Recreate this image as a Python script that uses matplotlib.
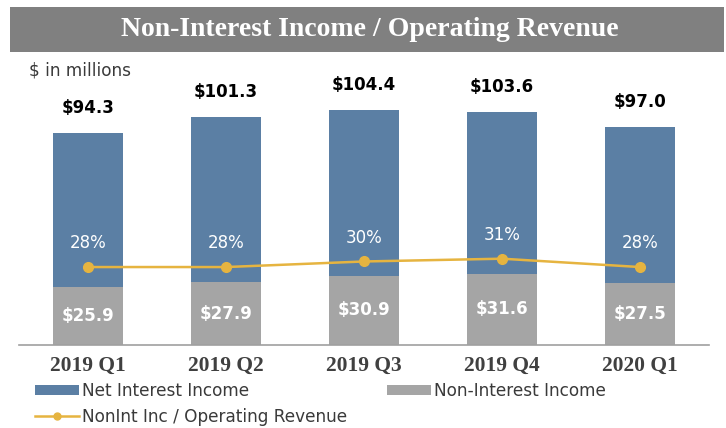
import matplotlib.pyplot as plt
from matplotlib.patches import Rectangle, Patch
from matplotlib.lines import Line2D
import numpy as np

# quarterly figures, $ in millions
quarters = ['2019 Q1', '2019 Q2', '2019 Q3', '2019 Q4', '2020 Q1']
total_rev = [94.3, 101.3, 104.4, 103.6, 97.0]
nonint_inc = [25.9, 27.9, 30.9, 31.6, 27.5]
nonint_pct = [0.28, 0.28, 0.30, 0.31, 0.28]

net_int = [round(t - n, 1) for t, n in zip(total_rev, nonint_inc)]

blue = '#5b7fa4'
grey = '#a5a5a5'
gold = '#e6b440'
dark = '#3a3a3a'

fig = plt.figure(figsize=(7.26, 4.28), dpi=100)

# title banner
fig.patches.append(Rectangle((10 / 726, 1 - 52 / 428), 714 / 726, 45 / 428,
                             transform=fig.transFigure, facecolor='#808080',
                             edgecolor='none', zorder=0))
fig.text(0.51, 1 - 30 / 428, 'Non-Interest Income / Operating Revenue',
         ha='center', va='center', color='white', fontsize=20,
         fontweight='bold', family='Liberation Serif')
fig.text(29 / 726, 1 - 70 / 428, '$ in millions', ha='left', va='center',
         color=dark, fontsize=12.2)

ax = fig.add_axes([19 / 726, 83 / 428, 690 / 726, 245 / 428])
x = np.arange(len(quarters))
w = 0.51

ax.bar(x, nonint_inc, w, color=grey, zorder=2)
ax.bar(x, net_int, w, bottom=nonint_inc, color=blue, zorder=2)

for i in range(len(x)):
    ax.text(x[i], nonint_inc[i] / 2, f'${nonint_inc[i]:.1f}', ha='center',
            va='center', color='white', fontsize=12, fontweight='bold', zorder=3)
    ax.annotate(f'${total_rev[i]:.1f}', (x[i], total_rev[i]),
                xytext=(0, 18), textcoords='offset points', ha='center',
                va='center', fontsize=12, fontweight='bold', color='black')

ax.set_xlim(-0.5, 4.5)
ax.set_ylim(0, 109)
ax.set_xticks(x)
ax.set_xticklabels(quarters, family='Liberation Serif', fontweight='bold',
                   fontsize=15.5, color='#404040')
ax.tick_params(axis='x', length=0, pad=8)
ax.set_yticks([])
for s in ['top', 'left', 'right']:
    ax.spines[s].set_visible(False)
ax.spines['bottom'].set_color('#a0a0a0')
ax.spines['bottom'].set_linewidth(1.2)
ax.patch.set_visible(False)

# ratio line on its own scale
ax2 = ax.twinx()
ax2.plot(x, nonint_pct, color=gold, lw=1.8, marker='o', ms=7, zorder=4)
for i in range(len(x)):
    ax2.annotate(f'{nonint_pct[i] * 100:.0f}%', (x[i], nonint_pct[i]),
                 xytext=(0, 17), textcoords='offset points', ha='center',
                 va='center', fontsize=12, color='white')
ax2.set_ylim(0, 0.88)
ax2.set_yticks([])
for s in ['top', 'left', 'right', 'bottom']:
    ax2.spines[s].set_visible(False)

handles = [Patch(facecolor=blue),
           Line2D([], [], color=gold, lw=1.8, marker='o', ms=5),
           Patch(facecolor=grey)]
labels = ['Net Interest Income', 'NonInt Inc / Operating Revenue',
          'Non-Interest Income']
fig.legend(handles, labels, ncol=2, loc='upper left',
           bbox_to_anchor=(35 / 726, 1 - 382 / 428), frameon=False,
           fontsize=12.2, labelcolor=dark, handlelength=2.6, handleheight=0.6,
           handletextpad=0.15, columnspacing=2.4, borderpad=0,
           borderaxespad=0, labelspacing=0.45)

fig.savefig('out.png', dpi=100)
